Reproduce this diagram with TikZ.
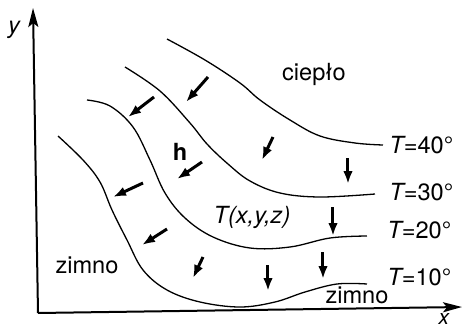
\documentclass[tikz,border=0pt]{standalone}
\usepackage{fontspec}
\setmainfont{TeX Gyre Heros}
\usetikzlibrary{arrows.meta}

\begin{document}
\begin{tikzpicture}[
    x=0.5pt, y=-0.5pt,
    axis/.style={line width=1pt, -{Stealth[length=9.5pt, width=5pt, inset=2pt]}},
    isotherm/.style={line width=0.65pt},
    grad/.style={line width=1.5pt, -{Latex[length=6.5pt, width=4.8pt]}},
    lbl/.style={inner sep=0pt, anchor=base, font=\fontsize{11.8}{14}\selectfont},
    templbl/.style={inner sep=0pt, anchor=base west, font=\fontsize{11.8}{14}\selectfont}
]
\useasboundingbox (0,0) rectangle (463,328);

\coordinate (O) at (38,313);
\coordinate (ytop) at (33,8);
\coordinate (xend) at (462,307);
\draw[axis] (O) -- (ytop);
\draw[axis] (O) -- (xend);
\node[lbl] (ylab) at (14,33) {\itshape y};
\node[lbl, font=\fontsize{10.5}{12}\selectfont] (xlab) at (444,324) {\itshape x};

\draw[isotherm] plot[smooth, tension=0.6] coordinates {(167,39) (205,60) (240,83) (260,100) (290,120) (320,136) (355,143) (383,145)};
\draw[isotherm] plot[smooth, tension=0.6] coordinates {(125,67) (160,91) (190,123) (207,144) (228,164) (250,181) (280,193) (320,197) (375,194)};
\draw[isotherm] plot[smooth, tension=0.6] coordinates {(87,100) (110,106) (133,127) (150,160) (165,193) (185,218) (213,237) (250,248) (290,247) (330,238) (367,236)};
\draw[isotherm] plot[smooth, tension=0.6] coordinates {(58,136) (83,160) (100,182) (112,210) (127,240) (143,270) (167,290) (200,302) (240,307) (275,302) (305,292) (337,284) (367,284)};

\node[templbl] (t40) at (389,153) {\itshape T\upshape=40°};
\node[templbl] (t30) at (389,200) {\itshape T\upshape=30°};
\node[templbl] (t20) at (387,238) {\itshape T\upshape=20°};
\node[templbl] (t10) at (387,285) {\itshape T\upshape=10°};

\node[lbl] (cieplo) at (314,80) {ciepło};
\node[lbl] (zimnoL) at (87,273) {zimno};
\node[lbl] (zimnoB) at (357,303) {zimno};
\node[lbl] (h) at (180,160) {\bfseries h};
\node[lbl] (Txyz) at (252,223) {\itshape T(x,y,z)};

\draw[grad] (208,77) -- (186,102);
\draw[grad] (154,97) -- (128,117);
\draw[grad] (202,162) -- (177,179);
\draw[grad] (273,137) -- (262,160);
\draw[grad] (348,158) -- (348,184);
\draw[grad] (143,183) -- (113,197);
\draw[grad] (333,207) -- (333,236);
\draw[grad] (167,229) -- (142,245);
\draw[grad] (203,257) -- (193,278);
\draw[grad] (268,265) -- (268,291);
\draw[grad] (323,252) -- (323,279);

\end{tikzpicture}
\end{document}
